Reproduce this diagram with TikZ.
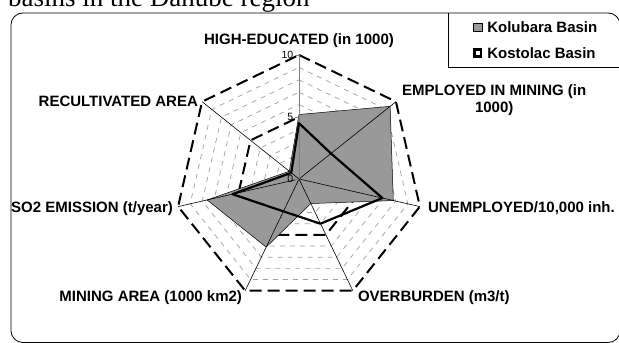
\documentclass[tikz,border=0pt]{standalone}
\usepackage{fontspec}
\setmainfont{Liberation Sans}
\newfontfamily\titlefont{Liberation Serif}
\usetikzlibrary{positioning}
\definecolor{kolubaraGray}{RGB}{153,153,153}
\definecolor{gridGray}{RGB}{160,160,160}
\newcommand{\labelfont}{\fontsize{15}{17}\selectfont\bfseries}

\begin{document}
\begin{tikzpicture}[x=0.43581cm, y=0.43581cm,
    axislabel/.style={font=\labelfont, inner sep=0pt},
    minorring/.style={draw=gridGray, line width=0.7pt, dash pattern=on 5pt off 5pt},
    majorring/.style={draw=black, line width=2pt, dash pattern=on 12pt off 6pt},
    ticklabel/.style={font=\fontsize{10.5}{11}\selectfont, inner sep=0pt, anchor=east}]
\useasboundingbox (-24.113,-13.226) rectangle (25.806,14.435);

% Title (cut off at the top)
\node[font=\titlefont\fontsize{27}{30}\selectfont, anchor=base west, inner sep=0pt] (title) at (-23.47,13.95) {basins in the Danube region};

% Frame and legend box
\draw[line width=0.8pt, rounded corners=12pt] (-23.23,-13.19) rectangle (25.89,13.39);
\draw[line width=0.8pt] (12.02,13.39) |- (25.89,9.03);

% Axis ends
\coordinate (o) at (0,0);
\foreach \i in {1,...,7} \coordinate (v\i) at ({90-(\i-1)*360/7}:10);

% Rings
\foreach \r in {1,2,3,4,6,7,8,9}
  \draw[minorring] (90:\r) \foreach \k in {1,...,6} { -- ({90-\k*360/7}:\r) } -- cycle;
\foreach \r in {5,10}
  \draw[majorring] (90:\r) \foreach \k in {1,...,6} { -- ({90-\k*360/7}:\r) } -- cycle;

% Kolubara Basin
\draw[fill=kolubaraGray, line width=0.5pt] (90:5.2) -- (38.571:9.4) -- (-12.857:7.8) -- (-64.286:2.2)
  -- (-115.714:6.1) -- (-167.143:7.6) -- (141.429:1.0) -- cycle;

% Axes
\foreach \i in {2,...,7} \draw[line width=0.6pt] (o) -- (v\i);
\draw[gray, line width=0.8pt] (o) -- (v1);
\foreach \t in {0,5,10} {
  \draw[gray, line width=0.8pt] (-0.3,\t) -- (0,\t);
  \node[ticklabel] (t\t) at (-0.45,\t) {\t};
}

% Kostolac Basin
\draw[line width=2.2pt, line join=round] (90:4.5) -- (38.571:3.3) -- (-12.857:6.9) -- (-64.286:4.0)
  -- (-115.714:2.9) -- (-167.143:5.5) -- (141.429:0.8) -- cycle;

% Axis labels
\node[axislabel, above=7pt of v1] (he) {HIGH-EDUCATED (in 1000)};
\node[axislabel, align=center, right=6pt of v2, yshift=2pt] (em) {EMPLOYED IN MINING (in\\1000)};
\node[axislabel, right=8pt of v3, yshift=-2pt] (un) {UNEMPLOYED/10,000 inh.};
\node[axislabel, below right=0pt and 5pt of v4] (ov) {OVERBURDEN (m3/t)};
\node[axislabel, below left=0pt and 3pt of v5] (ma) {MINING AREA (1000 km2)};
\node[axislabel, left=5pt of v6, yshift=-2pt] (so) {SO2 EMISSION (t/year)};
\node[axislabel, left=4pt of v7] (rc) {RECULTIVATED AREA};

% Legend
\node[draw, fill=kolubaraGray, line width=0.6pt, minimum size=8.5pt, inner sep=0pt] (kolKey) at (14.40,12.22) {};
\node[axislabel, right=5pt of kolKey] (kolText) {Kolubara Basin};
\node[draw, fill=white, line width=2.6pt, minimum size=6.5pt, inner sep=0pt] (kosKey) at (14.40,10.16) {};
\node[axislabel, right=5pt of kosKey] (kosText) {Kostolac Basin};
\end{tikzpicture}
\end{document}
